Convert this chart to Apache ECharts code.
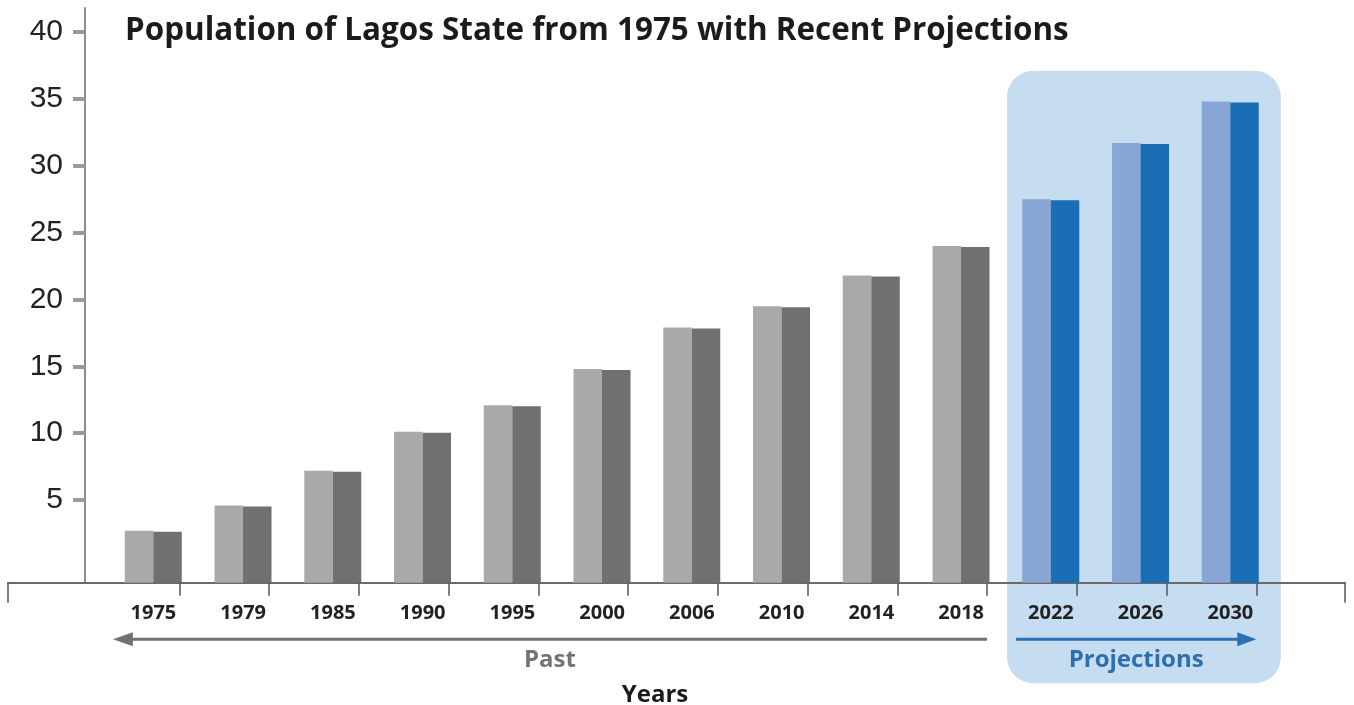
<!DOCTYPE html>
<html>
<head>
<meta charset="utf-8">
<title>Population of Lagos State from 1975 with Recent Projections</title>
<script src="https://cdn.jsdelivr.net/npm/echarts@6/dist/echarts.min.js"></script>
<style>
  html, body { margin: 0; padding: 0; background: #ffffff; }
  #chart { width: 1354px; height: 705px; }
</style>
</head>
<body>
<div id="chart"></div>
<script>
// Population of Lagos State, millions
const years = ['1975', '1979', '1985', '1990', '1995', '2000', '2006', '2010', '2014', '2018', '2022', '2026', '2030'];
const population = [2.7, 4.6, 7.2, 10.1, 12.1, 14.8, 17.9, 19.5, 21.8, 24.0, 27.5, 31.7, 34.8];
const firstProjectionYear = '2022';
const yTickValues = [5, 10, 15, 20, 25, 30, 35, 40];

const Y_MIN = -1.18;
const Y_MAX = 41.8;
const projStart = years.indexOf(firstProjectionYear);

const FONT = '"Open Sans", Lato, sans-serif';
const COLORS = {
  pastLight: '#a9a9a9',
  pastDark: '#707070',
  projLight: '#88a5d5',
  projDark: '#1a6eb5',
  band: '#c6dcf0',
  pastArrow: '#717171',
  projArrow: '#2b70b2'
};

const chart = echarts.init(document.getElementById('chart'), null, { renderer: 'canvas' });

// Each year is drawn as a two-tone column (light face + dark face) rising from the axis floor
function renderPair(params, api) {
  const idx = api.value(0);
  const top = api.coord([idx, api.value(1)]);
  const base = api.coord([idx, Y_MIN]);
  const band = api.size([1, 0])[0];
  const half = band * 0.3175;
  const cx = top[0] + band * 0.21;
  const proj = idx >= projStart;
  const h = base[1] - top[1];
  return {
    type: 'group',
    children: [
      { type: 'rect', shape: { x: cx - half, y: top[1], width: half, height: h },
        style: { fill: proj ? COLORS.projLight : COLORS.pastLight } },
      { type: 'rect', shape: { x: cx, y: top[1] + 1, width: half, height: h - 1 },
        style: { fill: proj ? COLORS.projDark : COLORS.pastDark } }
    ]
  };
}

const gridTop = 8;
const gridBottom = 122.3;

const option = {
  animation: false,
  backgroundColor: '#ffffff',
  title: {
    text: 'Population of Lagos State from 1975 with Recent Projections',
    left: 120,
    top: 11,
    textStyle: { fontFamily: FONT, fontSize: 31.4, fontWeight: 'bold', color: '#1b1b1b' }
  },
  grid: [
    { left: 89.55, right: 97.7, top: gridTop, bottom: gridBottom },
    { left: 8, right: 9, top: gridTop, bottom: gridBottom }
  ],
  xAxis: [
    {
      type: 'category',
      gridIndex: 0,
      data: years,
      boundaryGap: true,
      axisLine: { show: false, onZero: false },
      axisTick: {
        show: true,
        length: 13,
        interval: function (index) { return index !== 0; },
        lineStyle: { color: '#555555', width: 1.5 }
      },
      axisLabel: {
        margin: 21,
        padding: [0, 0, 0, 38],
        fontFamily: FONT,
        fontSize: 20,
        fontWeight: 'bold',
        color: '#222222'
      },
      splitLine: { show: false }
    },
    {
      type: 'value',
      gridIndex: 1,
      min: 0,
      max: 1,
      interval: 1,
      axisLine: { show: true, onZero: false, lineStyle: { color: '#6a6a6a', width: 2 } },
      axisTick: { show: true, length: 20, lineStyle: { color: '#555555', width: 1.5 } },
      axisLabel: { show: false },
      splitLine: { show: false }
    }
  ],
  yAxis: [
    {
      type: 'value',
      gridIndex: 0,
      min: Y_MIN,
      max: Y_MAX,
      offset: 4.5,
      axisLine: { show: true, onZero: false, lineStyle: { color: '#8c8c8c', width: 2 } },
      axisTick: {
        show: true,
        inside: false,
        length: 12,
        customValues: yTickValues,
        lineStyle: { color: '#9a9a9a', width: 4 }
      },
      axisLabel: {
        customValues: yTickValues,
        margin: 22,
        fontFamily: '"Liberation Sans", Arial, sans-serif',
        fontSize: 30,
        color: '#222222'
      },
      splitLine: { show: false }
    },
    {
      type: 'value',
      gridIndex: 1,
      min: 0,
      max: 1,
      show: false
    }
  ],
  series: [
    {
      name: 'Population',
      type: 'custom',
      xAxisIndex: 0,
      yAxisIndex: 0,
      z: 3,
      renderItem: renderPair,
      encode: { x: 0, y: 1 },
      data: years.map((y, i) => [i, population[i]])
    }
  ]
};

chart.setOption(option);

// Decorations: projection panel, direction arrows and captions, placed from the axis scales
const xc = i => chart.convertToPixel({ xAxisIndex: 0 }, i);
const yp = v => chart.convertToPixel({ yAxisIndex: 0 }, v);
const bandW = xc(1) - xc(0);
const last = years.length - 1;

const pastTip = xc(0) - bandW * 0.24;
const pastEnd = xc(projStart - 1) + bandW / 2;
const projStartX = xc(projStart) - bandW / 2 + 29;
const projTip = xc(last) + bandW / 2;
const arrowY = yp(Y_MIN) + 56.5;
const captionY = arrowY + 21;

const panelX0 = xc(projStart) - bandW / 2 + 20;
const panelX1 = xc(last) + bandW / 2 + 24.5;
const panelY0 = yp(37.1);
const panelY1 = yp(Y_MIN) + 100.5;

chart.setOption({
  graphic: [
    {
      type: 'rect',
      z: -10,
      silent: true,
      shape: { x: panelX0, y: panelY0, width: panelX1 - panelX0, height: panelY1 - panelY0, r: 26 },
      style: { fill: COLORS.band }
    },
    {
      type: 'line',
      z: 5,
      shape: { x1: pastTip + 16, y1: arrowY, x2: pastEnd, y2: arrowY },
      style: { stroke: COLORS.pastArrow, lineWidth: 3 }
    },
    {
      type: 'polygon',
      z: 5,
      shape: { points: [[pastTip, arrowY], [pastTip + 20, arrowY - 7], [pastTip + 20, arrowY + 7]] },
      style: { fill: COLORS.pastArrow }
    },
    {
      type: 'line',
      z: 5,
      shape: { x1: projStartX, y1: arrowY, x2: projTip - 16, y2: arrowY },
      style: { stroke: COLORS.projArrow, lineWidth: 3 }
    },
    {
      type: 'polygon',
      z: 5,
      shape: { points: [[projTip, arrowY], [projTip - 19, arrowY - 7], [projTip - 19, arrowY + 7]] },
      style: { fill: COLORS.projArrow }
    },
    {
      type: 'text',
      z: 5,
      x: (pastTip + pastEnd) / 2,
      y: captionY,
      style: {
        text: 'Past', fontFamily: FONT, fontSize: 24, fontWeight: 'bold',
        fill: '#737373', align: 'center', verticalAlign: 'middle'
      }
    },
    {
      type: 'text',
      z: 5,
      x: (projStartX + projTip) / 2,
      y: captionY,
      style: {
        text: 'Projections', fontFamily: FONT, fontSize: 24, fontWeight: 'bold',
        fill: '#2c6fb0', align: 'center', verticalAlign: 'middle'
      }
    },
    {
      type: 'text',
      z: 5,
      x: 655,
      y: captionY + 35,
      style: {
        text: 'Years', fontFamily: FONT, fontSize: 24, fontWeight: 'bold',
        fill: '#1b1b1b', align: 'center', verticalAlign: 'middle'
      }
    }
  ]
});
</script>
</body>
</html>
